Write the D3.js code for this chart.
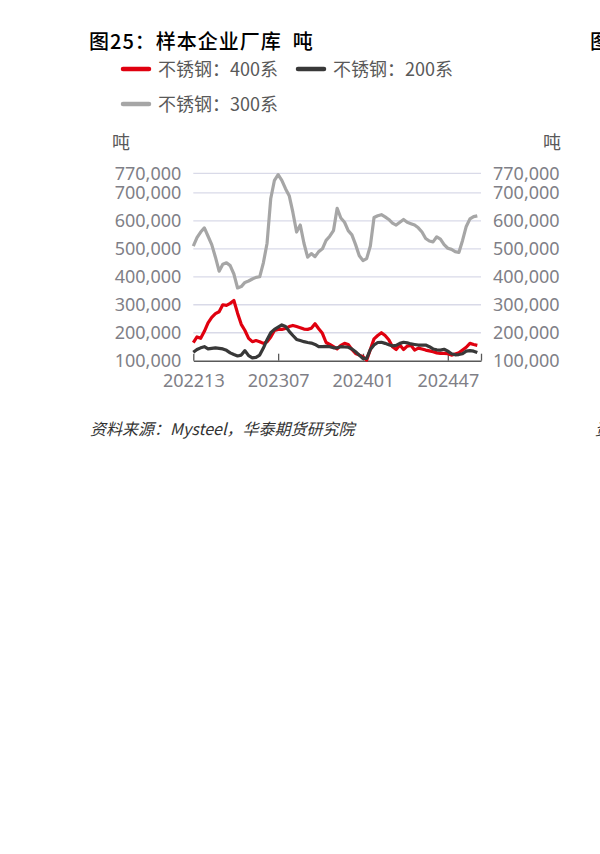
<!DOCTYPE html>
<html>
<head>
<meta charset="utf-8">
<script src="https://cdn.jsdelivr.net/npm/d3@7"></script>
<style>
  body { margin: 0; background: #fff; }
  text { font-family: "Noto Sans CJK SC", "Noto Sans", sans-serif; }
</style>
</head>
<body>
<script>
// weekly series, sampled every 2 weeks starting 202213 (units: thousand tonnes)
var series400 = [165,185,180,205,235,255,268,275,300,298,305,315,270,230,208,180,168,172,168,162,
  168,185,208,212,212,215,222,226,222,218,213,212,216,232,214,198,165,158,150,142,
  155,162,158,140,126,120,114,102,140,178,190,200,190,175,150,140,156,140,152,155,
  138,145,142,138,135,132,128,126,126,125,120,124,128,138,148,162,158,155];
var series200 = [130,140,146,150,142,144,146,144,142,137,128,122,117,120,136,118,110,112,120,145,
  175,200,212,220,228,222,205,190,176,172,168,165,163,158,150,150,151,150,146,146,
  150,149,148,142,132,120,108,108,140,156,165,166,162,157,153,155,162,166,164,160,
  158,156,156,156,150,142,139,138,141,134,125,121,122,125,134,136,134,129];
var series300 = [510,540,560,575,545,515,470,420,445,450,440,410,360,365,380,385,392,398,400,450,
  520,680,745,765,745,715,690,630,560,585,520,470,483,472,490,500,530,545,565,645,
  610,595,565,550,515,475,458,465,510,612,618,622,614,605,592,585,595,605,595,590,
  585,575,560,537,528,525,543,535,515,502,498,490,487,530,580,607,615,618];

var weekStep = 2;          // weeks between samples
var totalWeeks = 156;      // axis length in weeks
var tickWeeks = [0, 46, 92, 138, 156];
var tickLabels = ["202213", "202307", "202401", "202447", ""];
var yTicks = [100000, 200000, 300000, 400000, 500000, 600000, 700000, 770000];

var legendItems = [
  { name: "不锈钢：400系", color: "#e0000f", data: series400 },
  { name: "不锈钢：200系", color: "#383838", data: series200 },
  { name: "不锈钢：300系", color: "#a6a6a6", data: series300 }
];

window.onload = function() {
  var w = 600, h = 854;
  var svg = d3.select("body").append("svg")
    .attr("width", w)
    .attr("height", h);

  // plot box
  var pLeft = 193.3, pRight = 481, pTop = 173.3, pBottom = 360.7;

  var x = d3.scaleLinear().domain([0, totalWeeks]).range([pLeft, pRight]);
  var y = d3.scaleLinear().domain([100000, 770000]).range([pBottom, pTop]);

  // title
  svg.append("text")
    .attr("x", 89).attr("y", 49)
    .style("font-size", "20px").style("font-weight", "500").style("fill", "#000")
    .style("letter-spacing", "1px").style("white-space", "pre")
    .text("图25：样本企业厂库  吨");
  // next chart's title, cut off by the page edge
  svg.append("text")
    .attr("x", 590).attr("y", 49)
    .style("font-size", "20px").style("font-weight", "500").style("fill", "#000")
    .text("图26");

  // legend
  var legPos = [[122, 69], [297, 69], [122, 104]];
  legendItems.forEach(function(d, i) {
    var g = svg.append("g").attr("transform", "translate(" + legPos[i][0] + "," + legPos[i][1] + ")");
    g.append("line")
      .attr("x1", 1).attr("x2", 27).attr("y1", 0).attr("y2", 0)
      .attr("stroke", d.color).attr("stroke-width", 4.5).attr("stroke-linecap", "round");
    g.append("text")
      .attr("x", 36).attr("y", 6.5)
      .style("font-size", "18px").style("fill", "#595959")
      .text(d.name);
  });

  // unit labels
  svg.append("text").attr("x", 112).attr("y", 149)
    .style("font-size", "18px").style("fill", "#595959").text("吨");
  svg.append("text").attr("x", 543).attr("y", 149)
    .style("font-size", "18px").style("fill", "#595959").text("吨");

  // gridlines
  svg.append("g").selectAll("line")
    .data(yTicks.slice(1))
    .enter().append("line")
    .attr("x1", pLeft).attr("x2", pRight)
    .attr("y1", function(d) { return y(d); })
    .attr("y2", function(d) { return y(d); })
    .attr("stroke", "#d9dae8").attr("stroke-width", 1.3);

  // y axes, same labels on both sides
  var fmt = d3.format(",");
  var yLeft = svg.append("g")
    .attr("transform", "translate(" + (pLeft - 12) + ",0)")
    .call(d3.axisLeft(y).tickValues(yTicks).tickFormat(fmt).tickSize(0).tickPadding(0));
  var yRight = svg.append("g")
    .attr("transform", "translate(" + (pRight + 12) + ",0)")
    .call(d3.axisRight(y).tickValues(yTicks).tickFormat(fmt).tickSize(0).tickPadding(0));
  [yLeft, yRight].forEach(function(a) {
    a.select(".domain").remove();
    a.selectAll("text")
      .style("font-size", "18px").style("fill", "#7f7f87")
      .style("font-family", "'Noto Sans', sans-serif");
  });

  // x axis, ticks pointing up into the plot
  var xAxis = svg.append("g")
    .attr("transform", "translate(0," + pBottom + ")")
    .call(d3.axisBottom(x).tickValues(tickWeeks)
      .tickFormat(function(d, i) { return tickLabels[i]; })
      .tickSizeInner(-7).tickSizeOuter(0).tickPadding(14));
  xAxis.select(".domain").attr("stroke", "#595959").attr("stroke-width", 1.5);
  xAxis.selectAll(".tick line").attr("stroke", "#595959").attr("stroke-width", 1.3);
  xAxis.selectAll("text")
    .style("font-size", "18px").style("fill", "#7f7f87")
    .style("font-family", "'Noto Sans', sans-serif");

  // lines, 300 first so it sits behind
  var line = d3.line()
    .x(function(d, i) { return x(i * weekStep); })
    .y(function(d) { return y(d * 1000); });

  [legendItems[2], legendItems[0], legendItems[1]].forEach(function(s) {
    svg.append("path")
      .datum(s.data)
      .attr("d", line)
      .attr("fill", "none")
      .attr("stroke", s.color)
      .attr("stroke-width", 3.2)
      .attr("stroke-linejoin", "round");
  });

  // source
  svg.append("text")
    .attr("x", 90).attr("y", 435)
    .style("font-size", "16px").style("font-style", "italic").style("fill", "#333")
    .text("资料来源：Mysteel，华泰期货研究院");
  svg.append("text")
    .attr("x", 595).attr("y", 435)
    .style("font-size", "16px").style("font-style", "italic").style("fill", "#333")
    .text("资料");
};
</script>
</body>
</html>
